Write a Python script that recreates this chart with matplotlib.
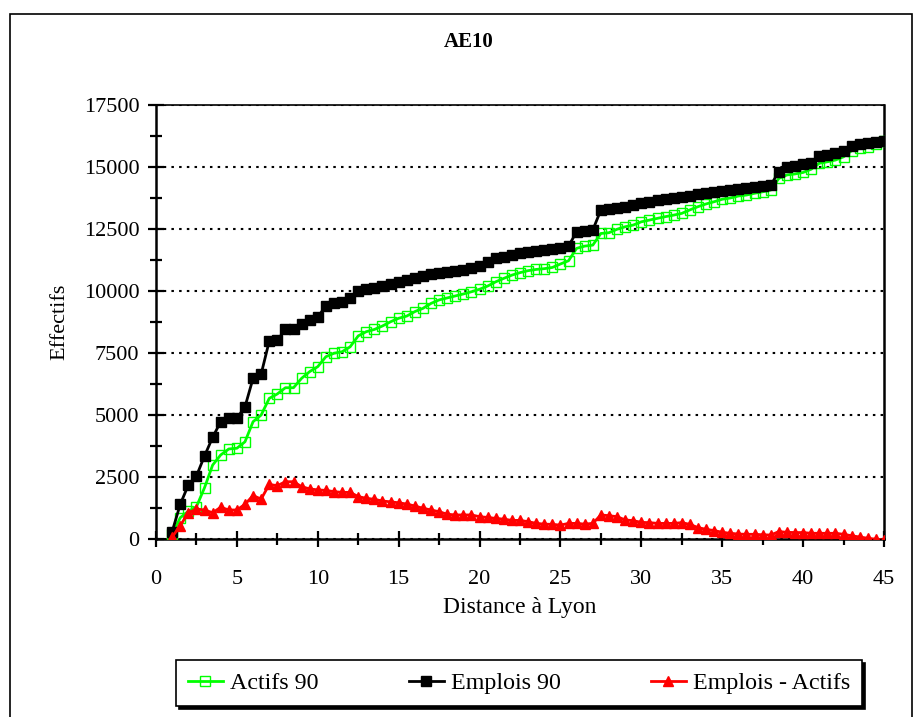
import numpy as np
import matplotlib
matplotlib.use("Agg")
import matplotlib.pyplot as plt
from matplotlib.patches import Rectangle
from matplotlib.ticker import MultipleLocator

plt.rcParams['font.family'] = ['Liberation Serif', 'DejaVu Serif']

distance = np.arange(1, 45.01, 0.5)

emplois = [300, 1400, 2180, 2540, 3350, 4100, 4730, 4870, 4870, 5330,
           6480, 6650, 7980, 8020, 8450, 8450, 8670, 8830, 8960, 9390,
           9500, 9570, 9700, 10000, 10070, 10140, 10220, 10300, 10380, 10450,
           10520, 10600, 10690, 10740, 10780, 10800, 10850, 10910, 11010, 11180,
           11320, 11380, 11450, 11520, 11580, 11610, 11650, 11680, 11720, 11810,
           12390, 12430, 12460, 13270, 13290, 13330, 13400, 13470, 13530, 13600,
           13670, 13700, 13730, 13800, 13830, 13900, 13940, 14000, 14040, 14070,
           14110, 14140, 14200, 14250, 14270, 14810, 15010, 15050, 15110, 15170,
           15440, 15480, 15550, 15640, 15860, 15910, 15950, 16020, 16060]

actifs = [200, 860, 1120, 1300, 2070, 2980, 3390, 3630, 3660, 3920,
          4730, 5000, 5670, 5850, 6100, 6100, 6480, 6750, 6950, 7350,
          7490, 7550, 7750, 8190, 8360, 8450, 8590, 8760, 8900, 8990,
          9170, 9300, 9500, 9640, 9720, 9800, 9880, 9970, 10070, 10200,
          10370, 10510, 10640, 10740, 10820, 10870, 10900, 10950, 11090, 11220,
          11720, 11810, 11850, 12320, 12350, 12490, 12590, 12660, 12790, 12860,
          12930, 13000, 13060, 13130, 13270, 13400, 13510, 13600, 13700, 13750,
          13830, 13870, 13940, 14000, 14070, 14540, 14680, 14720, 14780, 14910,
          15150, 15210, 15280, 15410, 15660, 15750, 15820, 15930, 16060]

ecart = [80, 540, 1060, 1210, 1170, 1060, 1280, 1170, 1170, 1400,
         1750, 1610, 2200, 2150, 2310, 2310, 2110, 2020, 1980, 1960,
         1910, 1880, 1880, 1710, 1640, 1600, 1530, 1500, 1460, 1410,
         1330, 1240, 1170, 1100, 1000, 970, 970, 970, 900, 870,
         830, 800, 750, 750, 700, 630, 600, 590, 560, 630,
         630, 600, 630, 970, 940, 900, 770, 740, 670, 660,
         630, 630, 630, 660, 590, 460, 390, 340, 270, 230,
         200, 190, 190, 170, 160, 300, 270, 260, 260, 230,
         230, 230, 230, 190, 130, 80, 30, -10, -40]

fig = plt.figure(figsize=(9.16, 7.17), dpi=100)
W, H = 916, 717

# outer border
fig.patches.append(Rectangle((10 / W, -0.01), 902 / W, 1 - 14 / H + 0.01,
                             transform=fig.transFigure, fill=False,
                             edgecolor='black', linewidth=1.2))

ax = fig.add_axes([156 / W, 1 - 539 / H, (884 - 156) / W, (539 - 105) / H])

ax.plot(distance, actifs, color='#00FF00', linewidth=2, marker='s',
        markersize=7, markerfacecolor='none', markeredgecolor='#00FF00',
        markeredgewidth=1.0, label='Actifs 90', zorder=3)
ax.plot(distance, emplois, color='black', linewidth=2, marker='s',
        markersize=7, markerfacecolor='black', markeredgecolor='black',
        label='Emplois 90', zorder=4)
ax.plot(distance, ecart, color='#FF0000', linewidth=2, marker='^',
        markersize=7, markerfacecolor='#FF0000', markeredgecolor='#FF0000',
        label='Emplois - Actifs', zorder=5)

ax.set_xlim(0, 45)
ax.set_ylim(0, 17500)
ax.xaxis.set_major_locator(MultipleLocator(5))
ax.xaxis.set_minor_locator(MultipleLocator(2.5))
ax.yaxis.set_major_locator(MultipleLocator(2500))
ax.yaxis.set_minor_locator(MultipleLocator(1250))
ax.tick_params(axis='both', which='major', direction='inout', length=12,
               width=1.6, labelsize=16, pad=6)
ax.tick_params(axis='both', which='minor', direction='inout', length=8,
               width=1.6)
ax.tick_params(axis='x', which='major', pad=16)
for s in ax.spines.values():
    s.set_linewidth(1.8)
ax.spines['top'].set_linewidth(1.2)
ax.set_axisbelow(True)
ax.yaxis.grid(True, which='major', color='black', linestyle=(0, (1.2, 2.5)),
              linewidth=1.5)

ax.set_xlabel('Distance à Lyon', fontsize=17, labelpad=6)
ax.set_ylabel('Effectifs', fontsize=16, labelpad=10)

fig.text(469 / W, 1 - 42 / H, 'AE10', ha='center', va='center',
         fontsize=15, fontweight='bold')

leg = fig.legend(loc='lower left', mode='expand', ncol=3,
                 bbox_to_anchor=(176 / W, 1 - 706 / H, 686 / W, 49 / H),
                 borderaxespad=0.0,
                 fontsize=17.3, frameon=True, fancybox=False,
                 shadow={'color': 'black', 'alpha': 1.0},
                 handlelength=1.45, handletextpad=0.3, borderpad=0.5,
                 edgecolor='black')
leg.get_frame().set_linewidth(1.2)

fig.savefig('out.png', dpi=100)
